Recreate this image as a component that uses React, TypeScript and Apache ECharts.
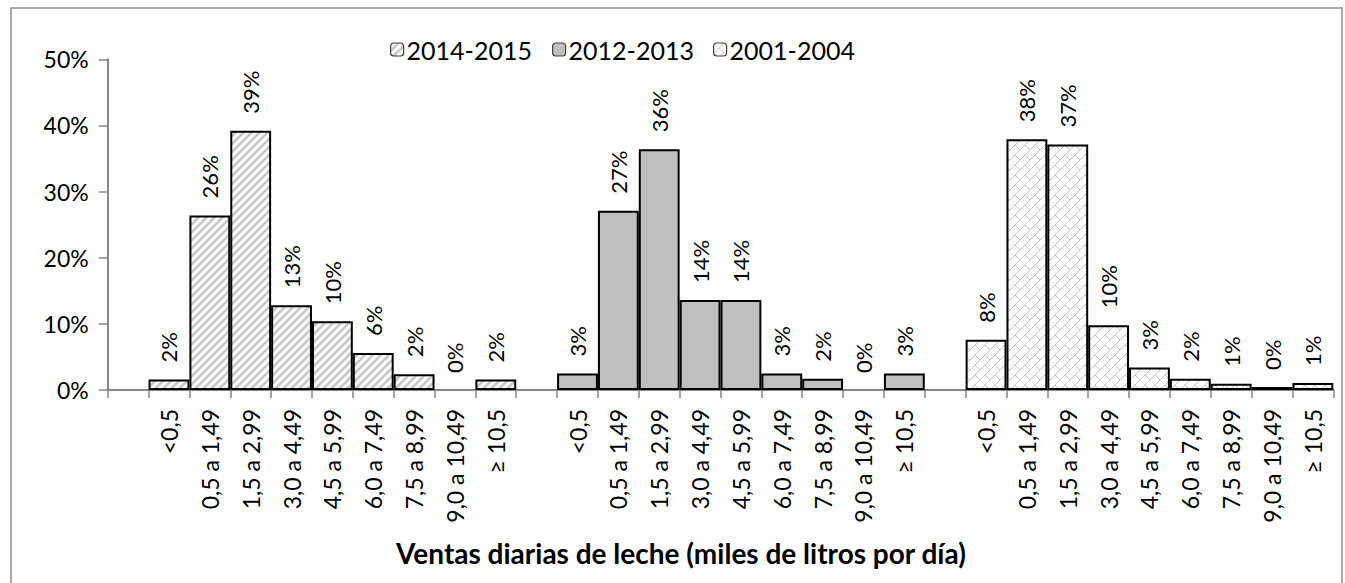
import React, { useEffect, useRef } from 'react';
import * as echarts from 'echarts';

const categories = ['<0,5', '0,5 a 1,49', '1,5 a 2,99', '3,0 a 4,49', '4,5 a 5,99', '6,0 a 7,49', '7,5 a 8,99', '9,0 a 10,49', '≥ 10,5'];
const seriesNames = ['2014-2015', '2012-2013', '2001-2004'];
const values2014 = [1.6, 26.4, 39.2, 12.8, 10.4, 5.6, 2.4, 0, 1.6];
const values2012 = [2.5, 27.1, 36.4, 13.6, 13.6, 2.5, 1.7, 0, 2.5];
const values2001 = [7.6, 37.9, 37.1, 9.8, 3.4, 1.7, 0.95, 0.45, 1.05];
const yMin = 0;
const yMax = 50;
const yInterval = 10;
const axisTitle = 'Ventas diarias de leche (miles de litros por día)';

const FONT = 'Lato';
const AXIS_GRAY = '#878787';

function stripeCanvas(): HTMLCanvasElement {
  const s = 8;
  const c = document.createElement('canvas');
  c.width = s;
  c.height = s;
  const ctx = c.getContext('2d')!;
  ctx.fillStyle = '#ffffff';
  ctx.fillRect(0, 0, s, s);
  ctx.strokeStyle = '#c6c6c6';
  ctx.lineWidth = 2.6;
  for (const k of [0, s, 2 * s]) {
    ctx.beginPath();
    ctx.moveTo(k + 3, -3);
    ctx.lineTo(-3, k + 3);
    ctx.stroke();
  }
  return c;
}

function brickCanvas(): HTMLCanvasElement {
  const s = 10;
  const c = document.createElement('canvas');
  c.width = s;
  c.height = s;
  const ctx = c.getContext('2d')!;
  ctx.fillStyle = '#ffffff';
  ctx.fillRect(0, 0, s, s);
  ctx.strokeStyle = '#c4c4c4';
  ctx.lineWidth = 1;
  for (const k of [0, s, 2 * s]) {
    ctx.beginPath();
    ctx.moveTo(k + 3, -3);
    ctx.lineTo(-3, k + 3);
    ctx.stroke();
  }
  ctx.beginPath();
  ctx.moveTo(s / 2, s / 2);
  ctx.lineTo(s + 1, s + 1);
  ctx.stroke();
  return c;
}

export default function App() {
  const ref = useRef<HTMLDivElement>(null);

  useEffect(() => {
    if (!ref.current) return;
    const chart = echarts.init(ref.current, null, { renderer: 'svg' });

    const groups = [values2014, values2012, values2001];
    const xData: string[] = [];
    groups.forEach(() => {
      xData.push('');
      categories.forEach((c) => xData.push(c));
    });

    const stripe = stripeCanvas();
    const brick = brickCanvas();
    const fills: any[] = [
      { image: stripe, repeat: 'repeat', imageWidth: stripe.width, imageHeight: stripe.height },
      '#bfbfbf',
      { image: brick, repeat: 'repeat', imageWidth: brick.width, imageHeight: brick.height },
    ];

    const series = groups.map((vals, gi) => {
      const data: any[] = xData.map(() => '-');
      vals.forEach((v, i) => {
        data[gi * (categories.length + 1) + 1 + i] =
          v === 0 ? { value: v, itemStyle: { borderWidth: 0 } } : { value: v };
      });
      return {
        name: seriesNames[gi],
        type: 'bar',
        data,
        barWidth: '100%',
        barGap: '-100%',
        itemStyle: { color: fills[gi], borderColor: '#000000', borderWidth: 2 },
        label: {
          show: true,
          position: 'top',
          rotate: 90,
          align: 'left',
          verticalAlign: 'middle',
          distance: 17,
          fontFamily: FONT,
          fontSize: 22,
          color: '#000000',
          formatter: (p: any) => Math.round(p.value) + '%',
        },
      };
    });

    const legendLefts = [390, 552, 713];
    const legend = seriesNames.map((n, i) => ({
      data: [n],
      left: legendLefts[i],
      top: 37,
      padding: 0,
      itemWidth: 13,
      itemHeight: 13,
      itemGap: 0,
      textStyle: { fontFamily: FONT, fontSize: 25, color: '#000000', padding: [0, 0, 0, -2] },
      itemStyle: { borderColor: '#404040', borderWidth: 1.2 },
    }));

    chart.setOption({
      animation: false,
      backgroundColor: '#ffffff',
      grid: { left: 107.7, right: 11.7, top: 59.3, bottom: 193, containLabel: false },
      legend,
      xAxis: {
        type: 'category',
        data: xData,
        boundaryGap: true,
        axisLine: { show: true, lineStyle: { color: AXIS_GRAY, width: 2 } },
        axisTick: { show: true, interval: 0, length: 8, lineStyle: { color: AXIS_GRAY, width: 1.5 } },
        axisLabel: {
          interval: 0,
          rotate: 90,
          margin: 19,
          fontFamily: FONT,
          fontSize: 23,
          color: '#000000',
        },
        splitLine: { show: false },
      },
      yAxis: {
        type: 'value',
        min: yMin,
        max: yMax,
        interval: yInterval,
        axisLine: { show: true, lineStyle: { color: AXIS_GRAY, width: 2 } },
        axisTick: { show: true, length: 9, lineStyle: { color: AXIS_GRAY, width: 1.5 } },
        axisLabel: {
          margin: 19,
          fontFamily: FONT,
          fontSize: 23,
          color: '#000000',
          formatter: '{value}%',
        },
        splitLine: { show: false },
      },
      graphic: [
        {
          type: 'rect',
          shape: { x: 11, y: 8, width: 1331, height: 600 },
          style: { fill: 'none', stroke: '#8e8e8e', lineWidth: 1.5 },
          silent: true,
        },
        {
          type: 'text',
          x: 681,
          y: 553,
          style: {
            text: axisTitle,
            fontFamily: FONT,
            fontSize: 28,
            fontWeight: 'bold',
            fill: '#000000',
            align: 'center',
            verticalAlign: 'middle',
          },
        },
      ],
      series,
    });

    return () => chart.dispose();
  }, []);

  return (
    <div
      ref={ref}
      style={{ position: 'fixed', left: 0, top: 0, width: 1345, height: 583, background: '#fff' }}
    />
  );
}
